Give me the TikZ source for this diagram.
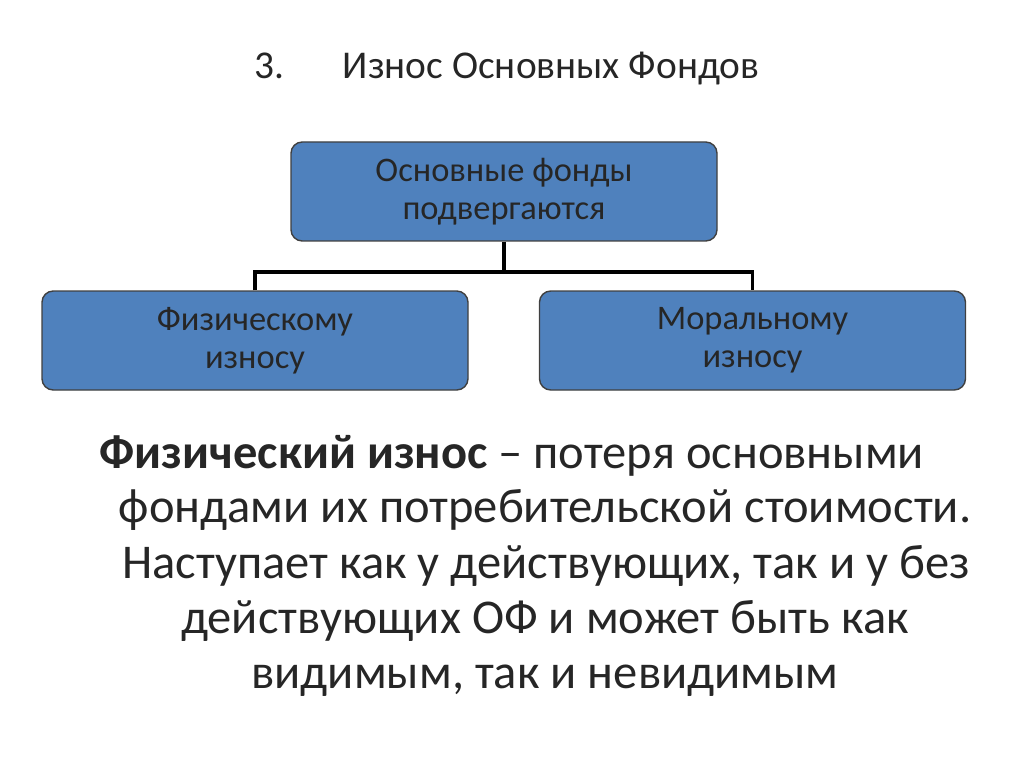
\documentclass[tikz,border=0pt]{standalone}
\usepackage{fontspec}
\setmainfont{Carlito}
\begin{document}
\begin{tikzpicture}[x=0.025cm,y=-0.025cm,
  box/.style={draw=black!75,line width=1pt,fill=boxblue,rounded corners=8pt,minimum width=426*0.025cm,minimum height=99*0.025cm,align=center,font=\fontsize{24.5pt}{27pt}\selectfont,text=black!85,inner sep=0pt},
  conn/.style={line width=2.8pt},
  body/.style={font=\fontsize{34.5pt}{38pt}\selectfont,text=black!85,inner sep=0pt,anchor=base}]
\definecolor{boxblue}{HTML}{4F81BD}
\useasboundingbox (0,0) rectangle (1024,767);
\node[font=\fontsize{28pt}{32pt}\selectfont,text=black!85,anchor=base west] (title) at (250,79) {3.};
\node[font=\fontsize{28pt}{32pt}\selectfont,text=black!85,anchor=base west] (title2) at (338,79) {Износ Основных Фондов};
\node[box] (top) at (504,191.5) {Основные фонды\\подвергаются};
\node[box] (l) at (255,340.5) {Физическому\\износу};
\node[box] (r) at (752.5,340.5) {Моральному\\износу};
\coordinate (j) at (504,272);
\draw[conn] (top.south) -- (j);
\draw[conn] (l.north) |- (j) -| (r.north);
\node[body] (b1) at (512,468) {\textbf{Физический износ} – потеря основными};
\node[body] (b2) at (545,522) {фондами их потребительской стоимости.};
\node[body] (b3) at (546,578) {Наступает как у действующих, так и у без};
\node[body] (b4) at (545,633) {действующих ОФ и может быть как};
\node[body] (b5) at (545,688) {видимым, так и невидимым};
\end{tikzpicture}
\end{document}
